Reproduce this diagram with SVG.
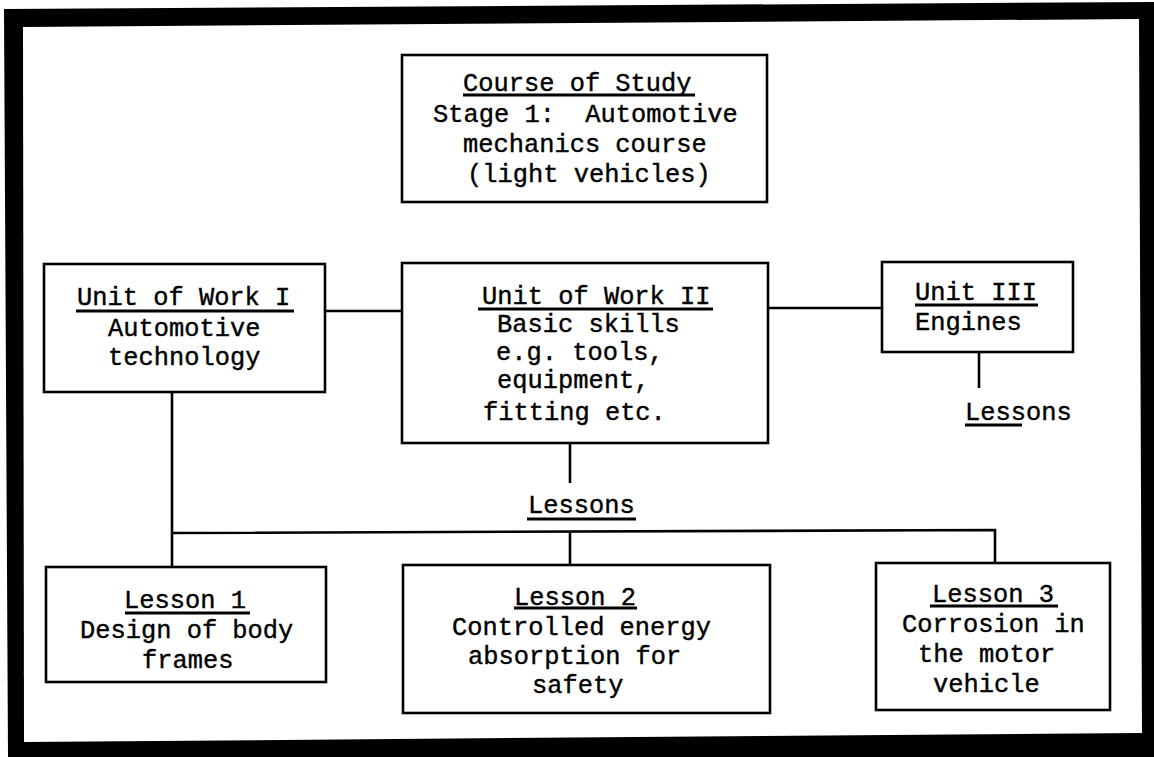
<svg xmlns="http://www.w3.org/2000/svg" width="1154" height="757" viewBox="0 0 1154 757">
  <style>
    .box { fill: #fff; stroke: #000; stroke-width: 2.6; }
    .wire { fill: none; stroke: #000; stroke-width: 2.6; }
    .ul { stroke: #000; stroke-width: 2.8; }
    text { font-family: "Liberation Mono", "Courier New", monospace; font-size: 25.4px; fill: #000; stroke: #000; stroke-width: 0.4; }
  </style>

  <!-- heavy page frame -->
  <polygon points="4,9 1154,2 1154,757 8,757" fill="#000"/>
  <polygon points="23,27 1139,19 1142,733 24,742" fill="#fff"/>

  <!-- connectors -->
  <g id="connectors">
    <line class="wire" x1="325" y1="311" x2="402" y2="311"/>
    <line class="wire" x1="768" y1="308" x2="882" y2="308"/>
    <line class="wire" x1="979" y1="352" x2="979" y2="388"/>
    <line class="wire" x1="570" y1="443" x2="570" y2="483"/>
    <line class="wire" x1="172" y1="392" x2="172" y2="567"/>
    <polyline class="wire" points="172,533 995,530 995,563"/>
    <line class="wire" x1="570" y1="532" x2="570" y2="565"/>
  </g>

  <!-- course of study -->
  <g id="course">
    <rect class="box" x="402" y="55" width="365" height="147"/>
    <text x="463" y="91">Course of Study</text>
    <line class="ul" x1="463" y1="95" x2="695" y2="95"/>
    <text x="433" y="122" xml:space="preserve">Stage 1:  Automotive</text>
    <text x="463" y="152">mechanics course</text>
    <text x="467" y="182">(light vehicles)</text>
  </g>

  <!-- unit of work I -->
  <g id="unit1">
    <rect class="box" x="44" y="264" width="281" height="128"/>
    <text x="77" y="305">Unit of Work I</text>
    <line class="ul" x1="76" y1="311" x2="294" y2="311"/>
    <text x="108" y="336">Automotive</text>
    <text x="108" y="365">technology</text>
  </g>

  <!-- unit of work II -->
  <g id="unit2">
    <rect class="box" x="402" y="263" width="366" height="180"/>
    <text x="482" y="304">Unit of Work II</text>
    <line class="ul" x1="478" y1="309" x2="713" y2="309"/>
    <text x="497" y="332">Basic skills</text>
    <text x="496" y="360">e.g. tools,</text>
    <text x="497" y="388">equipment,</text>
    <text x="483" y="420">fitting etc.</text>
  </g>

  <!-- unit III -->
  <g id="unit3">
    <rect class="box" x="882" y="262" width="191" height="90"/>
    <text x="915" y="300">Unit III</text>
    <line class="ul" x1="915" y1="305" x2="1038" y2="305"/>
    <text x="915" y="330">Engines</text>
  </g>

  <!-- lessons labels -->
  <g id="lessons-unit3">
    <text x="965" y="420">Lessons</text>
    <line class="ul" x1="965" y1="425" x2="1022" y2="425"/>
  </g>
  <g id="lessons-unit2">
    <text x="528" y="513">Lessons</text>
    <line class="ul" x1="527" y1="519" x2="636" y2="519"/>
  </g>

  <!-- lesson 1 -->
  <g id="lesson1">
    <rect class="box" x="46" y="567" width="280" height="115"/>
    <text x="124" y="608">Lesson 1</text>
    <line class="ul" x1="125" y1="613" x2="250" y2="613"/>
    <text x="80" y="638">Design of body</text>
    <text x="142" y="668">frames</text>
  </g>

  <!-- lesson 2 -->
  <g id="lesson2">
    <rect class="box" x="403" y="565" width="367" height="148"/>
    <text x="514" y="605">Lesson 2</text>
    <line class="ul" x1="514" y1="608" x2="637" y2="608"/>
    <text x="452" y="635">Controlled energy</text>
    <text x="468" y="664">absorption for</text>
    <text x="532" y="693">safety</text>
  </g>

  <!-- lesson 3 -->
  <g id="lesson3">
    <rect class="box" x="876" y="563" width="234" height="147"/>
    <text x="932" y="602">Lesson 3</text>
    <line class="ul" x1="930" y1="606" x2="1058" y2="606"/>
    <text x="902" y="632">Corrosion in</text>
    <text x="918" y="662">the motor</text>
    <text x="933" y="692">vehicle</text>
  </g>
</svg>
